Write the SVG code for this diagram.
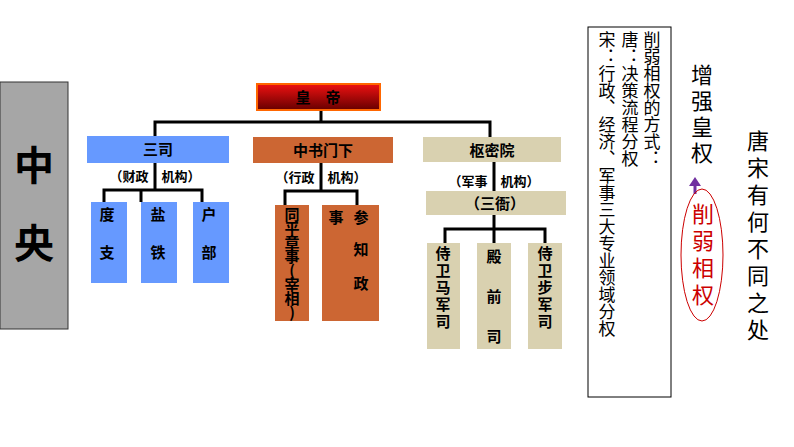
<svg xmlns="http://www.w3.org/2000/svg" width="794" height="447" viewBox="0 0 794 447">
<defs>
<linearGradient id="red" x1="0" y1="0" x2="0" y2="1"><stop offset="0" stop-color="#ee1111"/><stop offset="1" stop-color="#660000"/></linearGradient>
<style>
.b{font-family:"Noto Sans CJK SC",sans-serif;font-weight:bold;font-size:15px;fill:#000;text-anchor:middle}
.v{font-family:"Noto Sans CJK SC",sans-serif;writing-mode:vertical-rl;text-orientation:upright}
.blue{fill:#6699ff}.brown{fill:#cc6633}.tan{fill:#d9d1b0}
.ln{stroke:#000;stroke-width:3;fill:none}
</style>
</defs>
<rect width="794" height="447" fill="#fff"/>
<g id="zhongyang"><rect x="0" y="82" width="68" height="247" fill="#a6a6a6" stroke="#333"/>
<text x="34" y="180" class="b" style="font-size:40px;font-family:'Noto Sans CJK SC',serif">中</text>
<text x="34" y="258" class="b" style="font-size:40px;font-family:'Noto Sans CJK SC',serif">央</text></g>
<g id="connectors">
<path class="ln" d="M321 110V122M155 137V122H490V137"/>
<path class="ln" d="M155 163V190M104 202V190H202V202M141 190V202"/>
<path class="ln" d="M321 163V191M285 205V191H357V205"/>
<path class="ln" d="M494 162V191M494 215V229M445 243V229H545V243M494 229V243"/>
<path d="M695 194V184" stroke="#7030a0" stroke-width="3"/><path d="M689 186L695 177L701 186Z" fill="#7030a0"/>
</g>
<g id="emperor"><rect x="257" y="84" width="123" height="26" fill="url(#red)" stroke="#ff6600" stroke-width="2"/><text x="318" y="103" class="b">皇　帝</text></g>
<g id="sansi"><rect x="87" y="136" width="142" height="27" class="blue"/><text x="158" y="155" class="b">三司</text><text x="155" y="181" class="b" style="font-size:13px">（财政　机构）</text></g>
<g id="duzhi"><rect x="91" y="202" width="36" height="81" class="blue"/><text x="107" y="220" class="b">度</text><text x="107" y="258" class="b">支</text></g>
<g id="yantie"><rect x="141" y="202" width="36" height="81" class="blue"/><text x="158" y="220" class="b">盐</text><text x="158" y="258" class="b">铁</text></g>
<g id="hubu"><rect x="193" y="202" width="36" height="81" class="blue"/><text x="209" y="220" class="b">户</text><text x="209" y="258" class="b">部</text></g>
<g id="zhongshu"><rect x="253" y="137" width="140" height="26" class="brown"/><text x="323" y="156" class="b">中书门下</text><text x="321" y="182" class="b" style="font-size:13px">（行政　机构）</text></g>
<g id="tongping"><rect x="275" y="205" width="34" height="116" class="brown"/><text x="292" y="207" class="b v" style="text-anchor:start;font-size:15px;letter-spacing:-1px">同平章事(宰相)</text></g>
<g id="canzhi"><rect x="322" y="205" width="57" height="116" class="brown"/><text x="336" y="223" class="b">事</text><text x="361" y="223" class="b">参</text><text x="361" y="255" class="b">知</text><text x="361" y="289" class="b">政</text></g>
<g id="shumi"><rect x="423" y="137" width="138" height="25" class="tan"/><text x="492" y="156" class="b">枢密院</text><text x="494" y="186" class="b" style="font-size:13px">（军事　机构）</text></g>
<g id="sanya"><rect x="426" y="191" width="140" height="24" class="tan"/><text x="495" y="209" class="b">（三衙）</text></g>
<g id="majun"><rect x="427" y="243" width="33" height="106" class="tan"/><text x="443" y="246" class="b v" style="text-anchor:start;letter-spacing:2px">侍卫马军司</text></g>
<g id="dianqian"><rect x="477" y="243" width="34" height="106" class="tan"/><text x="494" y="262" class="b">殿</text><text x="494" y="302" class="b">前</text><text x="494" y="342" class="b">司</text></g>
<g id="bujun"><rect x="528" y="243" width="34" height="106" class="tan"/><text x="545" y="246" class="b v" style="text-anchor:start;letter-spacing:2px">侍卫步军司</text></g>
<g id="note"><rect x="588" y="27" width="83" height="370" fill="#fff" stroke="#000"/>
<text x="652" y="31" class="v" style="font-size:17px">削弱相权的方式：</text>
<text x="630" y="31" class="v" style="font-size:17px">唐：决策流程分权</text>
<text x="607" y="31" class="v" style="font-size:17px">宋：行政、经济、军事三大专业领域分权</text></g>
<g id="zengqiang"><text x="702" y="64" class="v" style="font-size:22px;letter-spacing:4px">增强皇权</text></g>
<g id="xueruo"><ellipse cx="702" cy="255" rx="21" ry="66" fill="none" stroke="#cc0000" stroke-width="1"/><text x="703" y="203" class="v" style="font-size:22px;fill:#cc0000;letter-spacing:5px">削弱相权</text></g>
<g id="question"><text x="758" y="130" class="v" style="font-size:22px;letter-spacing:5px">唐宋有何不同之处</text></g>
</svg>
